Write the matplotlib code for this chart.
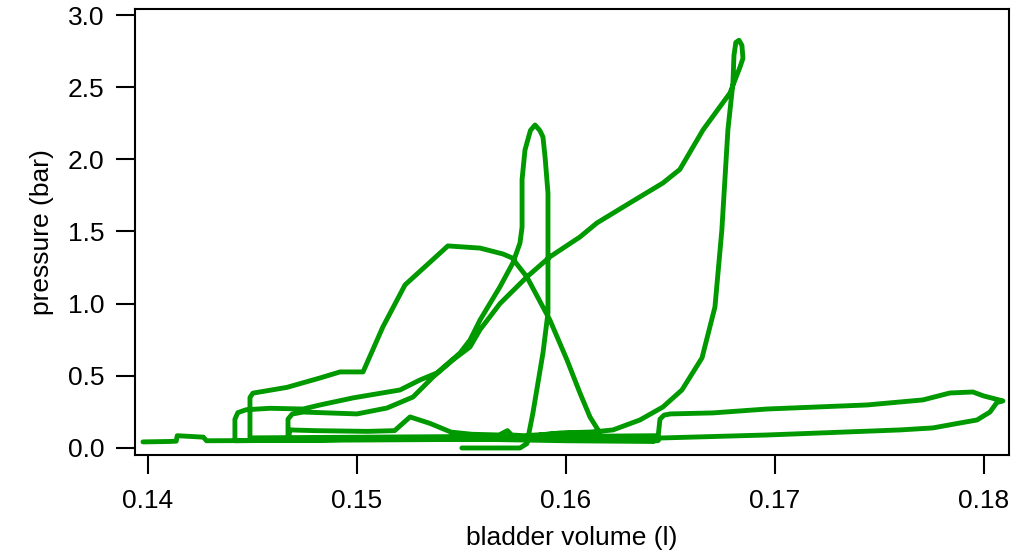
import matplotlib
matplotlib.use("Agg")
import matplotlib.pyplot as plt

plt.rcParams['font.family'] = ['Liberation Sans', 'DejaVu Sans']

# bladder volume (l) and pressure (bar), one continuous recording
volume = [
    0.13976, 0.14100, 0.14135, 0.14140, 0.14200, 0.14265, 0.14280, 0.15000,
    0.15600, 0.16000, 0.16420, 0.16430, 0.16000, 0.15600, 0.15000, 0.14488,
    # first loop, peak near 1.4 bar
    0.14488, 0.14488, 0.14502, 0.14665, 0.14823, 0.14919, 0.15029, 0.15096,
    0.15124, 0.15230, 0.15435, 0.15589, 0.15699, 0.15742, 0.15813, 0.15923,
    0.16005, 0.16067, 0.16115, 0.16148, 0.16160,
    # back along the floor with the small bump
    0.15970, 0.15800, 0.15740, 0.15720, 0.15680, 0.15550, 0.15450, 0.15350,
    0.15254, 0.15180, 0.15050, 0.14800, 0.14680, 0.14670,
    # second loop, peak near 2.8 bar
    0.14670, 0.14690, 0.14742, 0.15000, 0.15144, 0.15268, 0.15364, 0.15459,
    0.15541, 0.15589, 0.15684, 0.15813, 0.15923, 0.16067, 0.16148, 0.16306,
    0.16464, 0.16545, 0.16656, 0.16785, 0.16833, 0.16847, 0.16842, 0.16828,
    0.16813, 0.16804, 0.16799, 0.16775, 0.16746, 0.16713, 0.16651, 0.16555,
    0.16464, 0.16354, 0.16225, 0.16129, 0.15971, 0.15876, 0.16000, 0.16300,
    0.16440,
    # long low-pressure loop out to 0.18 l
    0.16450, 0.16470, 0.16500, 0.16703, 0.16962, 0.17440, 0.17708, 0.17837,
    0.17947, 0.18000, 0.18091, 0.18062, 0.18029, 0.17967, 0.17885, 0.17756,
    0.17598, 0.16962, 0.16450, 0.16440, 0.16000, 0.15600, 0.15200, 0.14800,
    0.14416,
    # last loop, peak near 2.2 bar
    0.14416, 0.14430, 0.14470, 0.14584, 0.14742, 0.14823, 0.14981, 0.15206,
    0.15301, 0.15383, 0.15493, 0.15541, 0.15589, 0.15684, 0.15746, 0.15780,
    0.15790, 0.15790, 0.15804, 0.15830, 0.15852, 0.15875, 0.15890, 0.15900,
    0.15914, 0.15914, 0.15914, 0.15890, 0.15842, 0.15813, 0.15780, 0.15502,
]
pressure = [
    0.042, 0.045, 0.047, 0.085, 0.080, 0.075, 0.050, 0.055,
    0.060, 0.050, 0.045, 0.085, 0.080, 0.080, 0.075, 0.070,
    0.200, 0.350, 0.380, 0.420, 0.485, 0.527, 0.527, 0.748,
    0.839, 1.130, 1.400, 1.385, 1.344, 1.317, 1.185, 0.887,
    0.610, 0.381, 0.215, 0.139, 0.110,
    0.100, 0.085, 0.090, 0.120, 0.090, 0.095, 0.110, 0.170,
    0.215, 0.120, 0.115, 0.120, 0.125, 0.060,
    0.200, 0.235, 0.249, 0.236, 0.277, 0.353, 0.492, 0.610,
    0.700, 0.820, 1.000, 1.185, 1.324, 1.462, 1.559, 1.698,
    1.836, 1.930, 2.204, 2.460, 2.640, 2.700, 2.790, 2.825,
    2.810, 2.720, 2.529, 2.204, 1.510, 0.977, 0.624, 0.402,
    0.284, 0.194, 0.125, 0.111, 0.104, 0.090, 0.075, 0.070,
    0.065,
    0.200, 0.228, 0.236, 0.243, 0.270, 0.298, 0.333, 0.381,
    0.388, 0.360, 0.326, 0.315, 0.249, 0.194, 0.173, 0.139,
    0.125, 0.090, 0.069, 0.050, 0.065, 0.060, 0.065, 0.055,
    0.050,
    0.200, 0.245, 0.265, 0.275, 0.270, 0.298, 0.347, 0.402,
    0.471, 0.520, 0.658, 0.748, 0.887, 1.116, 1.282, 1.420,
    1.530, 1.860, 2.065, 2.200, 2.238, 2.200, 2.155, 2.017,
    1.767, 1.324, 0.936, 0.658, 0.243, 0.030, 0.000, 0.000,
]

x_ticks = [0.14, 0.15, 0.16, 0.17, 0.18]
y_ticks = [0.0, 0.5, 1.0, 1.5, 2.0, 2.5, 3.0]

fig = plt.figure(figsize=(10.16, 5.56), dpi=100)
ax = fig.add_axes([0.1329, 0.1817, 0.8602, 0.8021])

ax.plot(volume, pressure, color='#009900', linewidth=3.5,
        solid_joinstyle='round', solid_capstyle='round')

ax.set_xlim(0.13938, 0.1812)
ax.set_ylim(-0.0485, 3.0416)
ax.set_xticks(x_ticks)
ax.set_xticklabels(['%.2f' % v for v in x_ticks])
ax.set_yticks(y_ticks)
ax.set_yticklabels(['%.1f' % v for v in y_ticks])

for s in ax.spines.values():
    s.set_linewidth(1.5)
ax.tick_params(direction='out', length=13.5, width=1.5, labelsize=19)
ax.tick_params(axis='x', pad=11)
ax.tick_params(axis='y', pad=8.5)

ax.set_xlabel('bladder volume (l)', fontsize=19, labelpad=9)
ax.set_ylabel('pressure (bar)', fontsize=19, labelpad=10)

fig.savefig('out.png', dpi=100)
